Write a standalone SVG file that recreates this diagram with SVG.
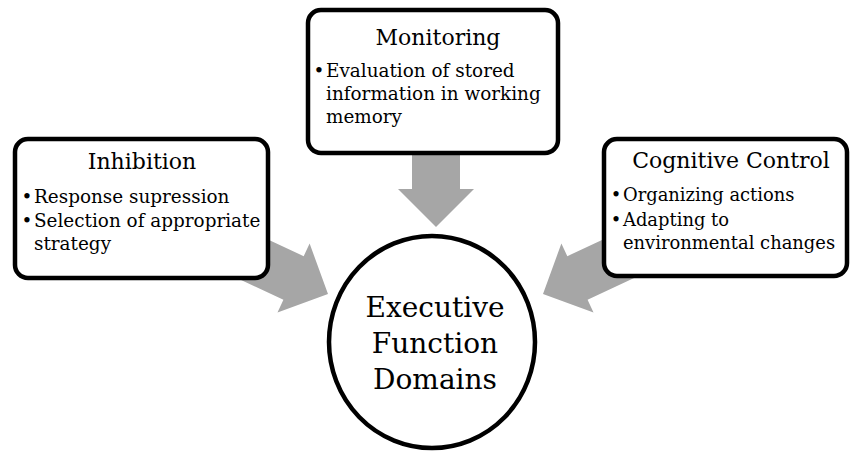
<svg xmlns="http://www.w3.org/2000/svg" width="851" height="452" viewBox="0 0 851 452">
<style>
.box{fill:#fff;stroke:#000;stroke-width:4.5}
.arrow{fill:#A6A6A6;stroke:none}
.title{font-family:"DejaVu Serif","Liberation Serif",serif;font-size:22px;fill:#000;text-anchor:middle}
.item{font-family:"DejaVu Serif","Liberation Serif",serif;font-size:18.4px;fill:#000}
.bul{font-family:"DejaVu Serif","Liberation Serif",serif;font-size:18.4px;fill:#000;text-anchor:middle}
.sm{font-size:17.9px}
.center{font-family:"DejaVu Serif","Liberation Serif",serif;font-size:28px;fill:#000;text-anchor:middle}
</style>
<defs>
<polygon id="arr" points="0,0 -38,-38 -38,-24 -130,-24 -130,24 -38,24 -38,38"/>
</defs>
<rect width="851" height="452" fill="#fff"/>
<g id="connectors">
<use href="#arr" class="arrow" transform="translate(436,227) rotate(90)"/>
<use href="#arr" class="arrow" transform="translate(328,294) rotate(25)"/>
<use href="#arr" class="arrow" transform="translate(543,294) rotate(155)"/>
</g>
<g id="inhibition">
<rect class="box" x="15" y="139" width="253" height="139" rx="13"/>
<text class="title" x="142" y="169">Inhibition</text>
<text class="bul" x="27" y="203">•</text>
<text class="item" x="34" y="203">Response supression</text>
<text class="bul" x="27" y="227">•</text>
<text class="item" x="34" y="227">Selection of appropriate</text>
<text class="item" x="34" y="250">strategy</text>
</g>
<g id="monitoring">
<rect class="box" x="308" y="10" width="250" height="143" rx="13"/>
<text class="title" x="438" y="45">Monitoring</text>
<text class="bul" x="319" y="77">•</text>
<text class="item" x="326" y="77">Evaluation of stored</text>
<text class="item" x="326" y="100">information in working</text>
<text class="item" x="326" y="123">memory</text>
</g>
<g id="cognitive-control">
<rect class="box" x="604" y="139" width="243" height="137" rx="13"/>
<text class="title" x="731" y="168">Cognitive Control</text>
<text class="bul sm" x="616" y="201">•</text>
<text class="item sm" x="623" y="201">Organizing actions</text>
<text class="bul sm" x="616" y="226">•</text>
<text class="item sm" x="623" y="226">Adapting to</text>
<text class="item sm" x="623" y="249">environmental changes</text>
</g>
<g id="executive-function-domains">
<ellipse cx="432" cy="342" rx="103" ry="106" fill="#fff" stroke="#000" stroke-width="4.5"/>
<text class="center" x="435" y="317">Executive</text>
<text class="center" x="435" y="353">Function</text>
<text class="center" x="435" y="389">Domains</text>
</g>
</svg>
